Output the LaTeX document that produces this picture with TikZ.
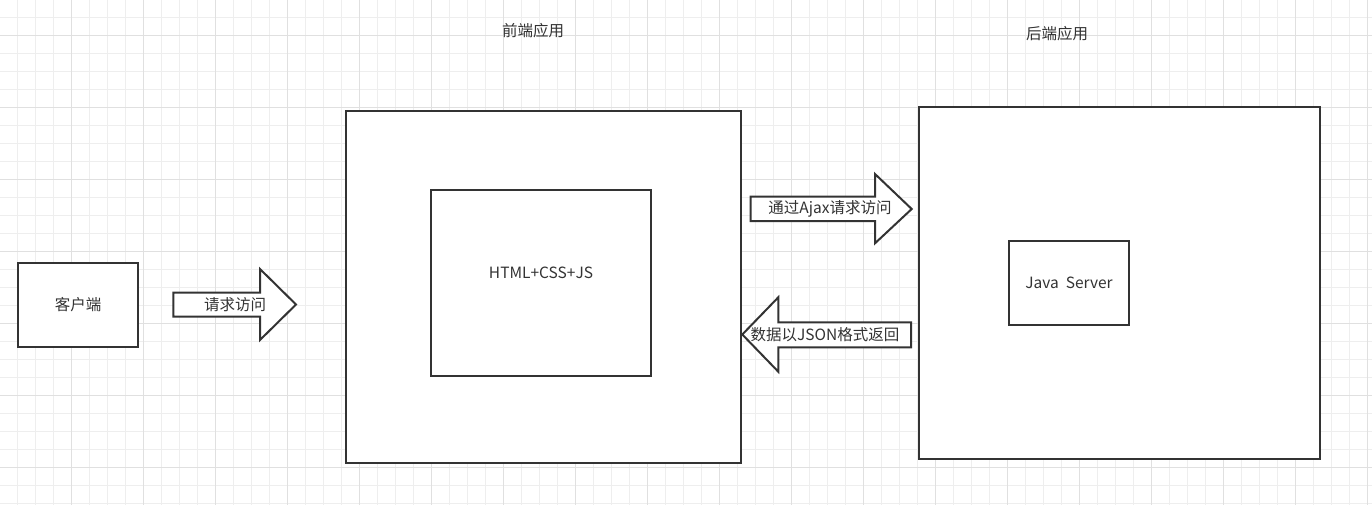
\documentclass[tikz,border=0pt]{standalone}
\usepackage{fontspec}
\setmainfont{Noto Sans CJK SC}
\begin{document}
\begin{tikzpicture}[x=1pt,y=-1pt,
  box/.style={draw=ink,line width=2pt,fill=white},
  blockarrow/.style={draw=ink,line width=2pt,fill=white,line join=miter},
  lbl/.style={text=ink,font=\fontsize{15.5}{18}\selectfont,inner sep=0pt},
]
\definecolor{ink}{HTML}{333333}
\definecolor{gridminor}{HTML}{EEEEEE}
\definecolor{gridmajor}{HTML}{E0E0E0}
\useasboundingbox (0,0) rectangle (1372,505);
\fill[white] (0,0) rectangle (1372,505);
% grid
\foreach \k in {0,...,75}{
  \draw[gridminor,line width=1pt] ({17.3+18*\k},0) -- ({17.3+18*\k},505);
}
\foreach \k in {0,...,27}{
  \draw[gridminor,line width=1pt] (0,{17.3+18*\k}) -- (1372,{17.3+18*\k});
}
\foreach \k in {0,...,18}{
  \draw[gridmajor,line width=1pt] ({71.3+72*\k},0) -- ({71.3+72*\k},505);
}
\foreach \k in {0,...,6}{
  \draw[gridmajor,line width=1pt] (0,{35.3+72*\k}) -- (1372,{35.3+72*\k});
}
% titles
\node[lbl] (ftitle) at (533,31) {前端应用};
\node[lbl] (btitle) at (1057,34) {后端应用};
% client
\draw[box] (18,263) rectangle (138,347);
\node[lbl] (client) at (78,305) {客户端};
% frontend
\draw[box] (346,111) rectangle (741,463);
\draw[box] (431,190) rectangle (651,376);
\node[lbl] (web) at (541,273) {HTML+CSS+JS};
% backend
\draw[box] (919,107) rectangle (1320,459);
\draw[box] (1009,241) rectangle (1129,325);
\node[lbl] (java) at (1069,283) {Java\ \ Server};
% arrow 1
\draw[blockarrow] (173.3,292.7) -- (260,292.7) -- (260,269) -- (296,304.5) -- (260,340) -- (260,316.7) -- (173.3,316.7) -- cycle;
\node[lbl] (req) at (235,305) {请求访问};
% arrow 2
\draw[blockarrow] (750.7,196.7) -- (875,196.7) -- (875,174) -- (911.7,209) -- (875,243.3) -- (875,221) -- (750.7,221) -- cycle;
\node[lbl] (ajax) at (830,209) {通过Ajax请求访问};
% arrow 3
\draw[blockarrow] (911,322.3) -- (778.3,322.3) -- (778.3,297.3) -- (742.3,334.5) -- (778.3,371.7) -- (778.3,347.3) -- (911,347.3) -- cycle;
\node[lbl] (json) at (825,335) {数据以JSON格式返回};
\end{tikzpicture}
\end{document}
